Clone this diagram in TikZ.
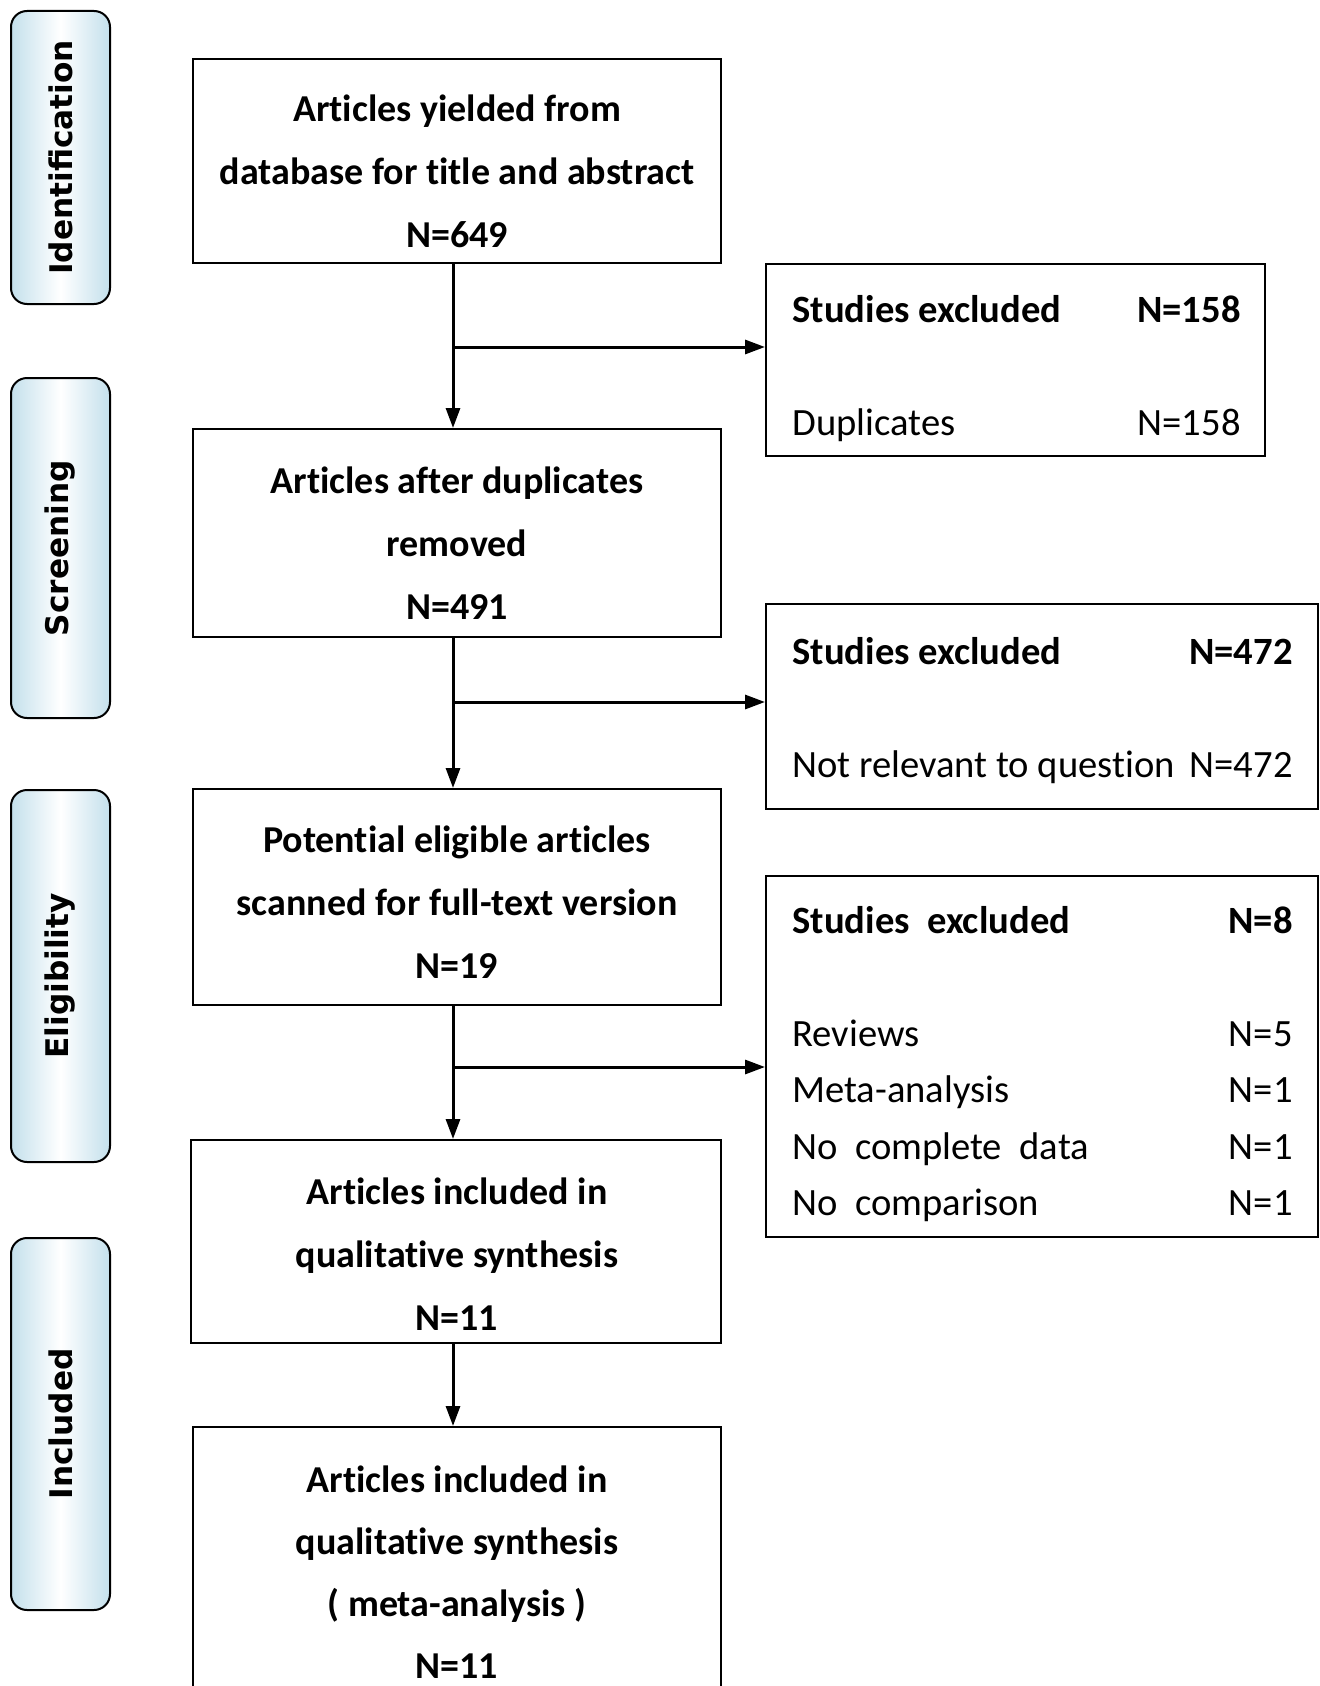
\documentclass[tikz,border=0pt]{standalone}
\usepackage{fontspec}
\setmainfont{Carlito}[Ligatures=NoCommon]
\newfontfamily\phasefont{DejaVu Sans}
\usetikzlibrary{arrows.meta}
\definecolor{phaseblue}{RGB}{196,224,236}

\begin{document}
\begin{tikzpicture}[x=0.5pt,y=-0.5pt,
        phase/.style={draw,line width=1pt,rounded corners=8pt,left color=phaseblue,right color=phaseblue,middle color=white,
                minimum width=49.5pt,inner sep=0pt,font=\phasefont\bfseries\fontsize{15.6}{18}\selectfont},
        box/.style={draw,line width=1pt,inner sep=0pt},
        boxtext/.style={align=center,inner sep=0pt,font=\bfseries\fontsize{19}{31.5}\selectfont},
        extxt/.style={anchor=mid west,inner sep=0pt,font=\fontsize{19.3}{23}\selectfont},
        exnum/.style={anchor=mid east,inner sep=0pt,font=\fontsize{19.3}{23}\selectfont},
        exhead/.style={font=\bfseries\fontsize{19.3}{23}\selectfont},
        arr/.style={-{Triangle[length=10pt,width=7pt]},line width=1.5pt}]
        \useasboundingbox[fill=white] (0,0) rectangle (1320,1686);
        % phases on the left
        \node[phase,minimum height=146.5pt] (idn) at (60.5,157.5) {\rotatebox{90}{Identification}};
        \node[phase,minimum height=170pt] (scr) at (60.5,548) {\rotatebox{90}{Screening}};
        \node[phase,minimum height=186pt] (elg) at (60.5,976) {\rotatebox{90}{Eligibility}};
        \node[phase,minimum height=186pt] (inc) at (60.5,1424) {\rotatebox{90}{Included}};
        % main column
        \node[box,minimum width=264pt,minimum height=102pt] (b1) at (457,161) {};
        \node[box,minimum width=264pt,minimum height=104pt] (b2) at (457,533) {};
        \node[box,minimum width=264pt,minimum height=108pt] (b3) at (457,897) {};
        \node[box,minimum width=265pt,minimum height=101.5pt] (b4) at (456,1241.5) {};
        \node[box,minimum width=264pt,minimum height=136.5pt] (b5) at (457,1563.5) {};
        \node[boxtext] (t1) at (457,171) {Articles yielded from\\database for title and abstract\\N=649};
        \node[boxtext] (t2) at (457,543) {Articles after duplicates\\removed\\N=491};
        \node[boxtext] (t3) at (457,902) {Potential eligible articles\\scanned for full-text version\\N=19};
        \node[boxtext] (t4) at (457,1254) {Articles included in\\qualitative synthesis\\N=11};
        \node[boxtext,font=\bfseries\fontsize{19}{31}\selectfont] (t5) at (457,1572) {Articles included in\\qualitative synthesis\\( meta-analysis )\\N=11};
        % excluded boxes
        \node[box,minimum width=249.5pt,minimum height=96pt] (r1) at (1015.5,360) {};
        \node[box,minimum width=276pt,minimum height=102.5pt] (r2) at (1042,706.5) {};
        \node[box,minimum width=276pt,minimum height=180.5pt] (r3) at (1042,1056.5) {};
        \node[extxt,exhead] (r1h) at (792,318) {Studies\ excluded};
        \node[exnum,exhead] (r1hn) at (1241,318) {N=158};
        \node[extxt] (r1a) at (792,431) {Duplicates};
        \node[exnum] (r1an) at (1241,431) {N=158};
        \node[extxt,exhead] (r2h) at (792,660) {Studies excluded};
        \node[exnum,exhead] (r2hn) at (1293,660) {N=472};
        \node[extxt] (r2a) at (792,773) {Not relevant to question};
        \node[exnum] (r2an) at (1293,773) {N=472};
        \node[extxt,exhead] (r3h) at (792,929) {Studies\ \ excluded};
        \node[exnum,exhead] (r3hn) at (1293,929) {N=8};
        \node[extxt] (r3a) at (792,1042) {Reviews};
        \node[exnum] (r3an) at (1293,1042) {N=5};
        \node[extxt] (r3b) at (792,1098) {Meta-analysis};
        \node[exnum] (r3bn) at (1293,1098) {N=1};
        \node[extxt] (r3c) at (792,1155) {No\ \ complete\ \ data};
        \node[exnum] (r3cn) at (1293,1155) {N=1};
        \node[extxt] (r3d) at (792,1211) {No\ \ comparison};
        \node[exnum] (r3dn) at (1293,1211) {N=1};
        % connectors
        \coordinate (j1) at (453,347);
        \coordinate (j2) at (453,702);
        \coordinate (j3) at (453,1067);
        \draw[arr] (b1.south -| j1) -- (b2.north -| j1);
        \draw[arr] (b2.south -| j1) -- (b3.north -| j1);
        \draw[arr] (b3.south -| j1) -- (b4.north -| j1);
        \draw[arr] (b4.south -| j1) -- (b5.north -| j1);
        \draw[arr] (j1) -- (j1 -| r1.west);
        \draw[arr] (j2) -- (j2 -| r2.west);
        \draw[arr] (j3) -- (j3 -| r3.west);
\end{tikzpicture}
\end{document}
